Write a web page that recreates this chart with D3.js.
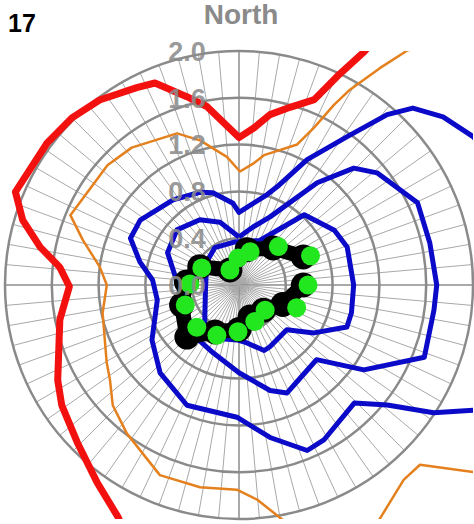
<!DOCTYPE html>
<html>
<head>
<meta charset="utf-8">
<script src="https://cdnjs.cloudflare.com/ajax/libs/d3/7.8.5/d3.min.js"></script>
<style>
  body { margin: 0; background: #fff; }
  svg { display: block; font-family: "Liberation Sans", Arial, sans-serif; }
</style>
</head>
<body>
<svg id="chart" width="474" height="524"></svg>
<script>
// radial axis
const ringTicks = [0.4, 0.8, 1.2, 1.6, 2.0];
const tickLabels = ['0.0', '0.4', '0.8', '1.2', '1.6', '2.0'];
const tickValues = [0, 0.4, 0.8, 1.2, 1.6, 2.0];
const spokeStep = 5; // degrees between radial grid lines

// series: [angle in degrees clockwise from North, value]
const redLine = [
    [30.5, 2.75], [28.2, 2.26], [25.2, 1.97], [22.1, 1.71], [16, 1.58], [10.3, 1.48], [5.5, 1.35],
    [0, 1.26], [-10.2, 1.55], [-15.5, 1.67], [-22.6, 1.87], [-27.4, 1.90], [-37, 1.98], [-45, 2.02],
    [-53.5, 2.04], [-67.4, 2.07], [-73.3, 1.93], [-79.2, 1.73], [-84.3, 1.54], [-90.5, 1.45],
    [-101, 1.56], [-117.7, 1.75], [-124.1, 1.83], [-134.3, 1.93], [-144.4, 2.08], [-152.6, 2.24], [-158, 2.45]
];
const orangeLine = [
    [45, 3.0], [35.7, 2.47], [33, 2.21], [29.6, 1.92], [27.8, 1.74], [25.5, 1.49], [22.5, 1.30],
    [10.9, 1.13], [7, 1.05], [0.5, 0.97], [-5.4, 1.10], [-15.1, 1.28], [-22.2, 1.40], [-38, 1.49],
    [-47.7, 1.52], [-67.5, 1.56], [-73.9, 1.39], [-82.6, 1.20], [-90, 1.13], [-101.6, 1.19],
    [-120.3, 1.31], [-126.4, 1.37], [-133.6, 1.49], [-142.9, 1.59], [-157.4, 1.76], [-169.1, 1.76],
    [-179.4, 1.75], [175.2, 1.84], [170, 2.02], [160, 2.6], [148.8, 2.33], [139.8, 2.18],
    [134.8, 2.18], [128.5, 2.57], [115, 3.0], [90, 3.1], [65, 3.1], [45, 3.0]
];
const blueOuter = [
    [75, 2.6], [57.7, 2.37], [50.5, 2.26], [44.5, 2.12], [41, 1.93], [36.1, 1.57], [28.5, 1.22],
    [21.2, 0.90], [17.3, 0.81], [0, 0.62], [-4.2, 0.70], [-15.8, 0.82], [-22.8, 0.86], [-37.8, 0.92],
    [-56.7, 1.01], [-66.7, 1.01], [-76.9, 0.87], [-86.7, 0.74], [-100.4, 0.71], [-122.3, 0.88],
    [-138.1, 1.01], [-156.6, 1.12], [-179.1, 1.13], [168.5, 1.33], [157.6, 1.53], [151.3, 1.51],
    [135.7, 1.41], [129, 1.63], [123.3, 1.99], [118, 2.28], [105, 2.7], [75, 2.6]
];
const blueMiddle = [
    [0, 0.41], [13.6, 0.51], [24.5, 0.64], [37.4, 1.10], [44.5, 1.40], [50.9, 1.52], [65.3, 1.68],
    [77.6, 1.67], [90, 1.69], [97.3, 1.68], [111.3, 1.70], [124.2, 1.29], [133.9, 0.92], [143.6, 0.94],
    [156, 1.01], [163.6, 0.94], [180, 0.75], [-159.1, 0.62], [-138.3, 0.58], [-100, 0.50],
    [-65.7, 0.67], [-48.4, 0.71], [-31, 0.65], [-16.8, 0.56], [0, 0.41]
];
const blueInner = [
    [25, 0.42], [42.9, 0.82], [60.1, 0.94], [70.6, 0.98], [90, 0.98], [103.9, 0.99], [111.3, 0.99],
    [122.6, 0.76], [133.2, 0.56], [153.4, 0.59], [159, 0.60], [172.1, 0.50], [-177.9, 0.47],
    [-155.6, 0.50], [-138.2, 0.44], [-98.6, 0.29], [-54.3, 0.34], [-33, 0.38], [-5.3, 0.37], [25, 0.42]
];
const blackPts = [
    [66.4, 0.60], [42.6, 0.43], [12.9, 0.31], [-31, 0.15], [-65, 0.37], [-86.7, 0.45], [-109.3, 0.52],
    [-135, 0.63], [-153, 0.45], [180, 0.38], [161, 0.29], [136, 0.30], [114, 0.41], [90, 0.55]
];
const greenPts = [
    [67.8, 0.66], [45.7, 0.47], [18.4, 0.30], [-2, 0.23], [-31, 0.15], [-65.3, 0.35], [-88.8, 0.42],
    [-110.3, 0.49], [-135, 0.51], [-156.3, 0.47], [-178.8, 0.40], [156.6, 0.34], [133.9, 0.31],
    [111.6, 0.53], [90, 0.59]
];

const svg = d3.select('#chart');
const cx = 239, cy = 285, R = 234;
const rScale = d3.scaleLinear().domain([0, 2]).range([0, R]);
const rad = d => d * Math.PI / 180;
const pt = d => d3.pointRadial(rad(d[0]), rScale(d[1]));

svg.append('text')
    .attr('x', 8).attr('y', 32)
    .attr('font-size', 25).attr('font-weight', 'bold').attr('fill', '#000')
    .text('17');
svg.append('text')
    .attr('x', 241).attr('y', 24)
    .attr('text-anchor', 'middle')
    .attr('font-size', 28).attr('font-weight', 'bold').attr('fill', '#8a8a8a')
    .text('North');

svg.append('clipPath').attr('id', 'plotClip')
    .append('rect')
    .attr('x', -R).attr('y', -R).attr('width', 2 * R).attr('height', 2 * R);

const g = svg.append('g').attr('transform', `translate(${cx},${cy})`);

// radial grid
g.append('g')
    .selectAll('line')
    .data(d3.range(0, 360, spokeStep))
    .enter()
    .append('line')
    .attr('x1', 0).attr('y1', 0)
    .attr('x2', a => d3.pointRadial(rad(a), R)[0])
    .attr('y2', a => d3.pointRadial(rad(a), R)[1])
    .attr('stroke', a => a % 90 === 0 ? '#8c8c8c' : '#a8a8a8')
    .attr('stroke-width', a => a % 90 === 0 ? 1.5 : 1);

g.append('g')
    .selectAll('circle')
    .data(ringTicks)
    .enter()
    .append('circle')
    .attr('r', d => rScale(d))
    .attr('fill', 'none')
    .attr('stroke', '#8a8a8a')
    .attr('stroke-width', 2.5);

const radial = d3.lineRadial()
    .angle(d => rad(d[0]))
    .radius(d => rScale(d[1]));

const lines = g.append('g').attr('clip-path', 'url(#plotClip)');

const series = [
    { data: redLine, color: '#f2110f', width: 7 },
    { data: orangeLine, color: '#e4801e', width: 2.5 },
    { data: blueOuter, color: '#0a0ac8', width: 5 },
    { data: blueMiddle, color: '#0a0ac8', width: 5 },
    { data: blueInner, color: '#0a0ac8', width: 5 }
];
lines.selectAll('path.series')
    .data(series)
    .enter()
    .append('path')
    .attr('class', 'series')
    .attr('d', d => radial(d.data))
    .attr('fill', 'none')
    .attr('stroke', d => d.color)
    .attr('stroke-width', d => d.width)
    .attr('stroke-linejoin', 'round');

// black trace with dots
lines.append('path')
    .attr('d', radial(blackPts))
    .attr('fill', 'none')
    .attr('stroke', '#000')
    .attr('stroke-width', 15)
    .attr('stroke-linejoin', 'round');
lines.selectAll('circle.black')
    .data(blackPts)
    .enter()
    .append('circle')
    .attr('class', 'black')
    .attr('cx', d => pt(d)[0])
    .attr('cy', d => pt(d)[1])
    .attr('r', 12.5)
    .attr('fill', '#000');
lines.selectAll('circle.green')
    .data(greenPts)
    .enter()
    .append('circle')
    .attr('class', 'green')
    .attr('cx', d => pt(d)[0])
    .attr('cy', d => pt(d)[1])
    .attr('r', 9.5)
    .attr('fill', '#22e61e');

// radial tick labels
g.append('g')
    .selectAll('text')
    .data(tickValues)
    .enter()
    .append('text')
    .attr('x', -52)
    .attr('y', d => -rScale(d))
    .attr('dy', '0.36em')
    .attr('text-anchor', 'middle')
    .attr('font-size', 27)
    .attr('font-weight', 'bold')
    .attr('fill', '#8c8c8c')
    .attr('fill-opacity', 0.9)
    .text((d, i) => tickLabels[i]);
</script>
</body>
</html>
